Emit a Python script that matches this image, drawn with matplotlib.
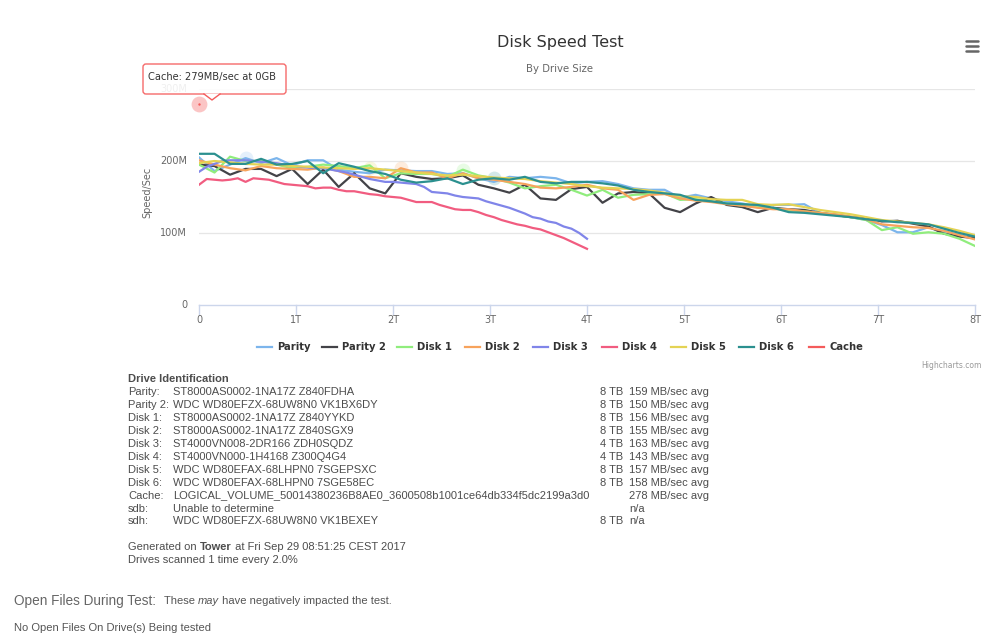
import numpy as np
import matplotlib
matplotlib.use("Agg")
import matplotlib.pyplot as plt
from matplotlib.lines import Line2D
from matplotlib.patches import FancyBboxPatch, Polygon
from matplotlib.transforms import IdentityTransform

W, H = 1000, 642

# ---- data (MB/sec, sampled every 2% of each drive) ----
scan_pct = np.arange(0, 101, 2)

names = ["Parity", "Parity 2", "Disk 1", "Disk 2", "Disk 3", "Disk 4", "Disk 5", "Disk 6", "Cache"]
sizes_tb = [8, 8, 8, 8, 4, 4, 8, 8, 0]
colors = ["#7cb5ec", "#434348", "#90ed7d", "#f7a35c", "#8085e9",
          "#f15c80", "#e4d354", "#2b908f", "#f45b5b"]

parity = [205, 186, 195, 204, 197, 204, 194, 201, 201, 188, 185, 183, 188, 187, 186, 186, 182,
          183, 176, 171, 178, 176, 178, 176, 169, 171, 172, 168, 162, 160, 160, 149, 153, 148,
          144, 141, 137, 139, 139, 140, 128, 126, 122, 118, 111, 101, 101, 108, 100, 97, 93]
parity2 = [195, 193, 181, 189, 189, 179, 189, 168, 188, 164, 183, 162, 155, 183, 178, 175, 176,
           180, 167, 162, 156, 167, 148, 146, 161, 164, 142, 155, 157, 155, 135, 129, 141, 150,
           139, 136, 129, 135, 133, 132, 128, 125, 122, 121, 116, 117, 113, 109, 99, 95, 93]
disk1 = [195, 184, 206, 200, 200, 195, 190, 192, 195, 193, 190, 194, 176, 183, 182, 182, 178,
         188, 180, 176, 170, 162, 165, 167, 160, 152, 160, 149, 153, 154, 155, 146, 147, 144,
         141, 138, 136, 134, 132, 130, 128, 125, 122, 118, 104, 108, 99, 101, 99, 92, 82]
disk2 = [201, 195, 190, 187, 193, 190, 189, 188, 191, 186, 178, 178, 176, 190, 184, 184, 176,
         183, 176, 174, 171, 168, 163, 162, 164, 167, 162, 160, 146, 153, 154, 148, 145, 143,
         140, 138, 135, 133, 133, 130, 128, 126, 123, 119, 112, 110, 108, 107, 103, 97, 91]
disk3 = [185, 192, 196, 200, 201, 201, 201, 200, 199, 198, 197, 195, 194, 192, 191, 190, 190,
         188, 186, 184, 181, 178, 175, 173, 171, 171, 170, 169, 168, 164, 157, 156, 155, 152,
         150, 149, 148, 144, 141, 138, 135, 131, 127, 122, 120, 116, 114, 109, 106, 100, 92]
disk4 = [167, 175, 174, 173, 174, 176, 171, 176, 175, 174, 171, 168, 167, 166, 165, 162, 163,
         163, 160, 158, 158, 156, 154, 153, 151, 150, 149, 146, 143, 143, 143, 139, 136, 133,
         132, 132, 129, 125, 122, 118, 115, 112, 110, 107, 105, 101, 97, 93, 88, 83, 78]
disk5 = [197, 200, 198, 196, 195, 195, 193, 192, 191, 190, 189, 190, 188, 186, 184, 182, 180,
         181, 179, 177, 176, 175, 172, 170, 168, 165, 163, 162, 161, 159, 156, 151, 150, 147,
         146, 146, 140, 139, 140, 136, 132, 129, 126, 122, 118, 116, 114, 112, 108, 103, 97]
disk6 = [210, 210, 196, 196, 203, 195, 196, 200, 183, 197, 192, 186, 182, 174, 170, 172, 176,
         168, 174, 176, 174, 178, 171, 169, 171, 171, 169, 166, 160, 157, 155, 153, 146, 144,
         141, 140, 139, 135, 129, 128, 126, 124, 122, 119, 117, 115, 114, 112, 106, 100, 95]
cache = [279]

series = [parity, parity2, disk1, disk2, disk3, disk4, disk5, disk6, cache]

# hovered points (series index, point index)
hovered = [(0, 3), (6, 11), (3, 13), (2, 17), (7, 19)]

y_ticks = [0, 100, 200, 300]
y_labels = ["0", "100M", "200M", "300M"]
x_ticks = list(range(9))
x_labels = ["0"] + ["%dT" % i for i in range(1, 9)]

table_labels = ["Parity:", "Parity 2:", "Disk 1:", "Disk 2:", "Disk 3:", "Disk 4:",
                "Disk 5:", "Disk 6:", "Cache:", "sdb:", "sdh:"]
table_models = ["ST8000AS0002-1NA17Z Z840FDHA", "WDC WD80EFZX-68UW8N0 VK1BX6DY",
                "ST8000AS0002-1NA17Z Z840YYKD", "ST8000AS0002-1NA17Z Z840SGX9",
                "ST4000VN008-2DR166 ZDH0SQDZ", "ST4000VN000-1H4168 Z300Q4G4",
                "WDC WD80EFAX-68LHPN0 7SGEPSXC", "WDC WD80EFAX-68LHPN0 7SGE58EC",
                "LOGICAL_VOLUME_50014380236B8AE0_3600508b1001ce64db334f5dc2199a3d0",
                "Unable to determine", "WDC WD80EFZX-68UW8N0 VK1BEXEY"]
table_sizes = ["8 TB", "8 TB", "8 TB", "8 TB", "4 TB", "4 TB", "8 TB", "8 TB", "", "", "8 TB"]
table_speeds = ["159 MB/sec avg", "150 MB/sec avg", "156 MB/sec avg", "155 MB/sec avg",
                "163 MB/sec avg", "143 MB/sec avg", "157 MB/sec avg", "158 MB/sec avg",
                "278 MB/sec avg", "n/a", "n/a"]

# ---- figure ----
fig = plt.figure(figsize=(W / 100, H / 100), dpi=100)
fig.patch.set_facecolor("white")

def T(x, y, s, **kw):
    kw.setdefault("va", "center")
    kw.setdefault("family", "DejaVu Sans")
    return fig.text(x / W, 1 - y / H, s, **kw)

x0, x1, ytop, ybot = 199, 975, 89, 305
ax = fig.add_axes([x0 / W, 1 - ybot / H, (x1 - x0) / W, (ybot - ytop) / H])
ax.set_xlim(0, 8)
ax.set_ylim(0, 300)
for s in ax.spines.values():
    s.set_visible(False)
ax.set_xticks([])
ax.set_yticks([])
for v in y_ticks[1:]:
    ax.axhline(v, color="#e6e6e6", lw=0.9, zorder=0)
ax.axhline(0, color="#ccd6eb", lw=1.0, zorder=0, clip_on=False)

for i, (name, vals) in enumerate(zip(names, series)):
    xs = sizes_tb[i] * scan_pct[:len(vals)] / 100.0
    ax.plot(xs, vals, color=colors[i], lw=1.6, solid_joinstyle="round", zorder=2 + i * 0.1)

for si, pi in hovered:
    xs = sizes_tb[si] * scan_pct[pi] / 100.0
    ax.scatter([xs], [series[si][pi]], s=100, color=colors[si], alpha=0.2, lw=0, zorder=1.5)

# cache point (hovered)
ax.scatter([0], [cache[0]], s=130, color="#f45b5b", alpha=0.35, lw=0, zorder=5, clip_on=False)
ax.scatter([0], [cache[0]], s=3, color="#f45b5b", lw=0, zorder=6, clip_on=False)

# axis ticks and labels
for xt, lab in zip(x_ticks, x_labels):
    px = x0 + (x1 - x0) * xt / 8
    fig.add_artist(Line2D([px / W, px / W], [1 - 305 / H, 1 - 314 / H], color="#ccd6eb", lw=1))
    T(px, 320, lab, ha="center", fontsize=7, color="#666666")
for yt, lab in zip(y_ticks, y_labels):
    py = ybot - (ybot - ytop) * yt / 300
    T(187, py, lab, ha="right", fontsize=7, color="#666666")
T(147, 192, "Speed/Sec", ha="center", rotation=90, fontsize=7, color="#666666")

# titles
T(560, 43, "Disk Speed Test", ha="center", fontsize=11.5, color="#333333")
T(560, 69, "By Drive Size", ha="center", fontsize=7.3, color="#666666")

# menu icon
for yy in (41, 46, 51):
    fig.add_artist(Line2D([966 / W, 978 / W], [1 - yy / H, 1 - yy / H], color="#666666",
                          lw=1.8, solid_capstyle="round"))

# legend
leg_x = [277, 342, 417, 485, 553, 622, 691, 759, 829]
for i, name in enumerate(names):
    lx = leg_x[i]
    fig.add_artist(Line2D([(lx - 20) / W, (lx - 5) / W], [1 - 347 / H, 1 - 347 / H],
                          color=colors[i], lw=1.6))
    T(lx, 347, name, ha="left", fontsize=7.2, fontweight="bold", color="#333333")

T(982, 366, "Highcharts.com", ha="right", fontsize=5.5, color="#999999")

# tooltip
idt = IdentityTransform()
box = FancyBboxPatch((143, H - 94), 143, 30, boxstyle="round,pad=0,rounding_size=3",
                     transform=idt, fc="white", ec="#f45b5b", lw=1, alpha=0.9, zorder=10)
fig.add_artist(box)
ptr = Polygon([(204, H - 93.5), (220, H - 93.5), (212, H - 100)], closed=True,
              transform=idt, fc="white", ec="none", zorder=11)
fig.add_artist(ptr)
fig.add_artist(Line2D([204, 212, 220], [H - 94, H - 100, H - 94], transform=idt,
                      color="#f45b5b", lw=1, zorder=12))
T(148, 77, "Cache: 279MB/sec at 0GB", ha="left", fontsize=7.1, color="#333333", zorder=13)

# drive identification table
tf = "Liberation Sans"
tc = "#4d4d4d"
fs = 8.0
T(128, 379, "Drive Identification", ha="left", fontsize=fs, fontweight="bold", color=tc, family=tf)
for r in range(len(table_labels)):
    y = 392 + r * 12.95
    T(128, y, table_labels[r], ha="left", fontsize=fs, color=tc, family=tf)
    T(173, y, table_models[r], ha="left", fontsize=fs, color=tc, family=tf)
    if table_sizes[r]:
        T(623, y, table_sizes[r], ha="right", fontsize=fs, color=tc, family=tf)
    T(629, y, table_speeds[r], ha="left", fontsize=fs, color=tc, family=tf)

fig.canvas.draw()
rend = fig.canvas.get_renderer()

def after(t):
    return t.get_window_extent(rend).x1

t = T(128, 547, "Generated on ", ha="left", fontsize=fs, color=tc, family=tf)
t = T(after(t), 547, "Tower", ha="left", fontsize=fs, fontweight="bold", color=tc, family=tf)
T(after(t), 547, " at Fri Sep 29 08:51:25 CEST 2017", ha="left", fontsize=fs, color=tc, family=tf)
T(128, 560, "Drives scanned 1 time every 2.0%", ha="left", fontsize=fs, color=tc, family=tf)

T(14, 601, "Open Files During Test:", ha="left", fontsize=9.8, color="#666666", family=tf)
t = T(164, 601, "These ", ha="left", fontsize=8, color="#555555", family=tf)
t = T(after(t), 601, "may", ha="left", fontsize=8, style="italic", color="#555555", family=tf)
T(after(t), 601, " have negatively impacted the test.", ha="left", fontsize=8, color="#555555", family=tf)
T(14, 628, "No Open Files On Drive(s) Being tested", ha="left", fontsize=8, color="#555555", family=tf)

fig.savefig("out.png", dpi=100)
